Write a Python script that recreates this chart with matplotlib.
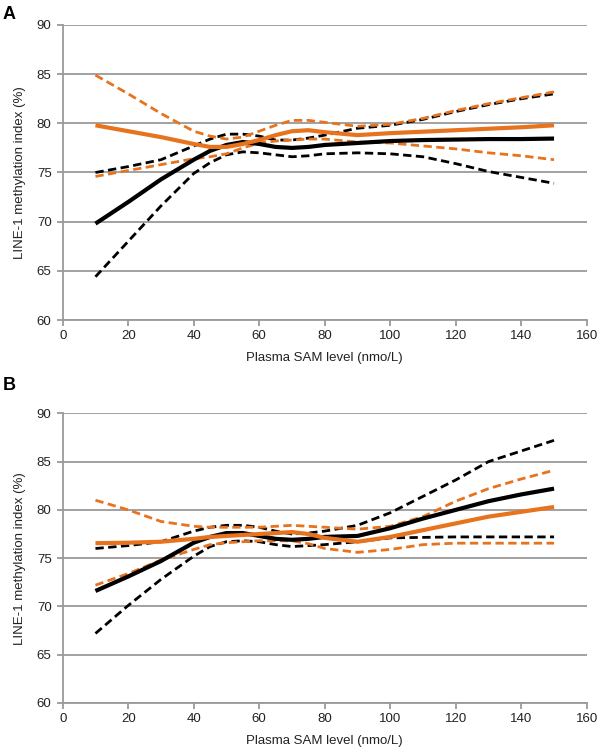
import matplotlib
matplotlib.use("Agg")
import matplotlib.pyplot as plt

plt.rcParams['font.family'] = ['Liberation Sans', 'DejaVu Sans']

x = [10, 20, 30, 40, 45, 50, 55, 60, 65, 70, 75, 80, 90, 100, 110, 120, 130, 140, 150]

# Panel A
a_black = [69.8, 72.0, 74.3, 76.3, 77.2, 77.8, 78.1, 77.9, 77.6, 77.5, 77.6, 77.8, 78.0, 78.2, 78.3, 78.35, 78.4, 78.4, 78.45]
a_black_hi = [75.0, 75.6, 76.3, 77.7, 78.4, 78.9, 78.9, 78.7, 78.3, 78.3, 78.5, 78.8, 79.5, 79.8, 80.4, 81.2, 81.9, 82.5, 83.0]
a_black_lo = [64.4, 68.0, 71.6, 74.9, 76.0, 76.8, 77.1, 77.0, 76.8, 76.6, 76.7, 76.9, 77.0, 76.9, 76.6, 75.9, 75.1, 74.5, 73.9]
a_orange = [79.8, 79.2, 78.6, 77.9, 77.6, 77.6, 77.9, 78.3, 78.8, 79.2, 79.3, 79.1, 78.8, 79.0, 79.15, 79.3, 79.45, 79.6, 79.8]
a_orange_hi = [84.9, 83.0, 81.0, 79.2, 78.7, 78.4, 78.6, 79.2, 79.8, 80.3, 80.3, 80.1, 79.7, 79.9, 80.5, 81.3, 82.0, 82.6, 83.2]
a_orange_lo = [74.6, 75.2, 75.8, 76.4, 76.6, 76.9, 77.5, 78.0, 78.2, 78.3, 78.4, 78.4, 78.1, 78.0, 77.7, 77.4, 77.0, 76.7, 76.3]

# Panel B
b_black = [71.6, 73.1, 74.7, 76.6, 77.2, 77.6, 77.6, 77.3, 77.0, 76.9, 77.0, 77.2, 77.3, 78.1, 79.1, 80.0, 80.9, 81.6, 82.2]
b_black_hi = [76.0, 76.3, 76.7, 77.8, 78.2, 78.4, 78.4, 78.2, 77.8, 77.5, 77.6, 77.8, 78.4, 79.7, 81.4, 83.1, 85.0, 86.1, 87.2]
b_black_lo = [67.2, 70.1, 72.8, 75.2, 76.2, 76.7, 76.8, 76.7, 76.4, 76.2, 76.3, 76.4, 76.7, 77.1, 77.15, 77.2, 77.2, 77.2, 77.2]
b_orange = [76.55, 76.6, 76.7, 77.0, 77.2, 77.3, 77.4, 77.5, 77.6, 77.7, 77.5, 77.1, 76.7, 77.2, 77.9, 78.6, 79.3, 79.8, 80.3]
b_orange_hi = [81.0, 80.0, 78.8, 78.3, 78.2, 78.2, 78.2, 78.2, 78.3, 78.4, 78.3, 78.2, 78.0, 78.3, 79.3, 80.9, 82.2, 83.2, 84.1]
b_orange_lo = [72.2, 73.4, 74.8, 75.9, 76.4, 76.6, 76.7, 76.8, 76.8, 76.8, 76.5, 76.0, 75.6, 75.9, 76.4, 76.55, 76.55, 76.55, 76.55]

x_ticks = [0, 20, 40, 60, 80, 100, 120, 140, 160]
y_ticks = [60, 65, 70, 75, 80, 85, 90]
x_label = "Plasma SAM level (nmo/L)"
y_label = "LINE-1 methylation index (%)"

ORANGE = "#E8731E"
GRID = "#9a9a9a"

fig = plt.figure(figsize=(6, 7.5), dpi=100)
axA = fig.add_axes([0.1045, 0.5733, 0.8735, 0.3934])
axB = fig.add_axes([0.1045, 0.0627, 0.8735, 0.3862])

def draw(ax, blk, blk_hi, blk_lo, org, org_hi, org_lo):
    ax.set_xlim(0, 160)
    ax.set_ylim(60, 90)
    ax.set_xticks(x_ticks)
    ax.set_yticks(y_ticks)
    ax.grid(axis='y', color=GRID, linewidth=1.3)
    ax.set_axisbelow(True)
    for s in ['top', 'right']:
        ax.spines[s].set_visible(False)
    for s in ['left', 'bottom']:
        ax.spines[s].set_color(GRID)
        ax.spines[s].set_linewidth(1.3)
    ax.tick_params(axis='both', colors=GRID, length=4, width=1.3,
                   labelcolor='#222222', labelsize=9.5)
    ax.tick_params(axis='y', pad=4)
    dash = (3, 1.6)
    ax.plot(x, blk_hi, color='black', linewidth=2.0, dashes=dash)
    ax.plot(x, blk_lo, color='black', linewidth=2.0, dashes=dash)
    ax.plot(x, org_hi, color=ORANGE, linewidth=2.0, dashes=dash)
    ax.plot(x, org_lo, color=ORANGE, linewidth=2.0, dashes=dash)
    ax.plot(x, blk, color='black', linewidth=3.0, solid_capstyle='butt')
    ax.plot(x, org, color=ORANGE, linewidth=3.0, solid_capstyle='butt')
    ax.set_xlabel(x_label, fontsize=9.5, color='#222222', labelpad=7)
    ax.set_ylabel(y_label, fontsize=9.5, color='#222222', labelpad=8)

draw(axA, a_black, a_black_hi, a_black_lo, a_orange, a_orange_hi, a_orange_lo)
draw(axB, b_black, b_black_hi, b_black_lo, b_orange, b_orange_hi, b_orange_lo)

fig.text(0.005, 0.992, "A", fontsize=13, fontweight='bold', va='top', ha='left')
fig.text(0.005, 0.497, "B", fontsize=13, fontweight='bold', va='top', ha='left')

fig.savefig("out.png", dpi=100)
